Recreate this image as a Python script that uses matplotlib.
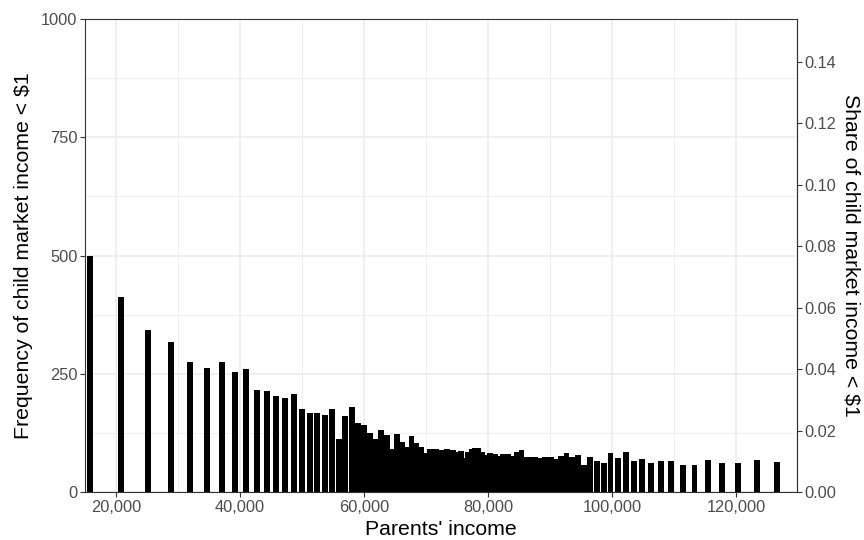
import matplotlib.pyplot as plt
from matplotlib.ticker import FuncFormatter, MultipleLocator

plt.rcParams['font.family'] = ['Liberation Sans', 'DejaVu Sans']

parent_income = [15800, 20800, 25100, 28800, 31900, 34700, 37050, 39150, 41000, 42700,
                 44300, 45850, 47300, 48700, 50000, 51250, 52450, 53700, 54850, 55900,
                 57000, 58000, 59000, 59950, 60900, 61800, 62750, 63650, 64450, 65300,
                 66200, 66900, 67650, 68450, 69250, 69950, 70700, 71600, 72550, 73450,
                 74300, 74950, 75600, 76300, 76800, 77350, 77850, 78400, 79050, 79700,
                 80350, 81100, 81750, 82400, 83200, 83900, 84650, 85400, 86150, 86850,
                 87600, 88400, 89250, 90100, 90950, 91750, 92650, 93600, 94500, 95450,
                 96450, 97550, 98650, 99750, 100950, 102200, 103500, 104900, 106350, 107850,
                 109500, 111400, 113300, 115450, 117750, 120350, 123350, 126600]
freq_zero_income = [500, 413, 342, 317, 274, 262, 275, 254, 259, 216,
                    213, 202, 198, 207, 175, 166, 166, 162, 176, 113,
                    161, 180, 145, 141, 124, 113, 132, 120, 91, 123,
                    106, 96, 118, 103, 96, 83, 90, 90, 89, 91,
                    88, 84, 86, 72, 84, 90, 92, 92, 85, 78,
                    82, 80, 76, 81, 81, 76, 85, 88, 73, 73,
                    75, 72, 75, 75, 70, 77, 82, 74, 78, 57,
                    73, 65, 61, 82, 72, 84, 66, 70, 61, 65,
                    65, 57, 57, 67, 62, 61, 68, 63]
n_per_bin = 6500  # share = frequency / children per bin

fig, ax = plt.subplots(figsize=(8.64, 5.4), dpi=100)
fig.subplots_adjust(left=0.0984, right=0.9225, bottom=0.0889, top=0.9648)

ax.set_axisbelow(True)
ax.bar(parent_income, freq_zero_income, width=950, color='black', linewidth=0, zorder=2)

ax.set_xlim(15000, 129840)
ax.set_ylim(0, 1000)
ax.set_yticks([0, 250, 500, 750, 1000])
ax.yaxis.set_minor_locator(MultipleLocator(125))
ax.set_xticks(range(20000, 120001, 20000))
ax.xaxis.set_minor_locator(MultipleLocator(10000))
ax.xaxis.set_major_formatter(FuncFormatter(lambda v, p: f'{int(v):,}'))

ax.grid(which='major', color='#EBEBEB', linewidth=1.1)
ax.grid(which='minor', color='#EBEBEB', linewidth=0.55)
ax.tick_params(which='minor', length=0)
ax.tick_params(which='major', length=3.5, width=0.8, color='#333333',
               labelcolor='#4D4D4D', labelsize=11.8, pad=2)
for s in ax.spines.values():
    s.set_color('#333333')
    s.set_linewidth(0.8)

ax.set_xlabel("Parents' income", fontsize=15.3, labelpad=4)
ax.set_ylabel('Frequency of child market income < $1', fontsize=15.3, labelpad=6)

sec = ax.secondary_yaxis('right', functions=(lambda v: v / n_per_bin, lambda v: v * n_per_bin))
sec.set_yticks([0, 0.02, 0.04, 0.06, 0.08, 0.10, 0.12, 0.14])
sec.yaxis.set_major_formatter(FuncFormatter(lambda v, p: f'{v:.2f}'))
sec.tick_params(length=3.5, width=0.8, color='#333333', labelcolor='#4D4D4D',
                labelsize=11.8, pad=2)
sec.spines['right'].set_color('#333333')
sec.spines['right'].set_linewidth(0.8)
sec.set_ylabel('Share of child market income < $1', fontsize=15.3, rotation=-90,
               labelpad=17)

plt.savefig('out.png', dpi=100)
